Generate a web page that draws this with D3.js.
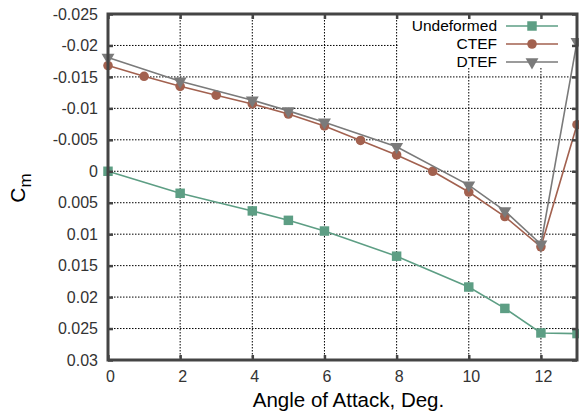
<!DOCTYPE html>
<html>
<head>
<meta charset="utf-8">
<script src="https://cdn.jsdelivr.net/npm/d3@7"></script>
<style>
  body { margin: 0; background: #fff; }
  text { font-family: "Liberation Sans", Arial, sans-serif; }
</style>
</head>
<body>
<div id="chart"></div>
<script>
// angle of attack, deg.
var angles = [0, 1, 2, 3, 4, 5, 6, 7, 8, 9, 10, 11, 12, 13];
var undeformedX = [0, 2, 4, 5, 6, 8, 10, 11, 12, 13];
var undeformedCm = [0.0, 0.0035, 0.0063, 0.0078, 0.0095, 0.0135, 0.0184, 0.0218, 0.0257, 0.0258];
var ctefCm = [-0.0168, -0.0151, -0.0135, -0.0121, -0.0107, -0.0091, -0.0072, -0.0049, -0.0026, 0.0, 0.0033, 0.0072, 0.0120, -0.0074];
var dtefX = [0, 2, 4, 5, 6, 8, 10, 11, 12, 13];
var dtefCm = [-0.0181, -0.0143, -0.0113, -0.0096, -0.0078, -0.0039, 0.0022, 0.0063, 0.0116, -0.0206];
var xTicks = [0, 2, 4, 6, 8, 10, 12];
var yTicks = [-0.025, -0.02, -0.015, -0.01, -0.005, 0, 0.005, 0.01, 0.015, 0.02, 0.025, 0.03];
var seriesNames = ['Undeformed', 'CTEF', 'DTEF'];

function CmChart() {

    this.init = function() {
        this._config = {
            width: 579,
            height: 417,
            left: 108,
            right: 577,
            top: 14,
            bottom: 360
        };
        this._svg = d3.select('#chart').append('svg')
            .attr('width', this._config.width)
            .attr('height', this._config.height);
        this._x = d3.scaleLinear().domain([0, 13]).range([this._config.left, this._config.right]);
        this._y = d3.scaleLinear().domain([-0.025, 0.03]).range([this._config.top, this._config.bottom]);
        this._drawGrid();
        this._drawLegendMask();
        this._drawSeries();
        this._drawAxes();
        this._drawLegend();
        this._drawTitles();
    };

    this._drawGrid = function() {
        var c = this._config, x = this._x, y = this._y;
        var g = this._svg.append('g');
        g.selectAll('line.gx').data(xTicks.slice(1)).enter().append('line')
            .attr('x1', x).attr('x2', x)
            .attr('y1', c.top).attr('y2', c.bottom)
            .attr('stroke', '#000').attr('stroke-width', 1)
            .attr('stroke-dasharray', '1.5,1.5');
        g.selectAll('line.gy').data(yTicks.slice(1, -1)).enter().append('line')
            .attr('y1', y).attr('y2', y)
            .attr('x1', c.left).attr('x2', c.right)
            .attr('stroke', '#000').attr('stroke-width', 1)
            .attr('stroke-dasharray', '1.5,1.5');
    };

    this._drawLegendMask = function() {
        this._svg.append('rect')
            .attr('x', 398).attr('y', this._config.top)
            .attr('width', 174).attr('height', 54)
            .attr('fill', '#fff');
    };

    this._drawSeries = function() {
        var x = this._x, y = this._y;
        var line = d3.line().x(function(d) { return x(d[0]); }).y(function(d) { return y(d[1]); });
        var defs = [
            { pts: d3.zip(undeformedX, undeformedCm), color: '#5d9e84', symbol: d3.symbolSquare, size: 90, rot: 0 },
            { pts: d3.zip(angles, ctefCm), color: '#a2614f', symbol: d3.symbolCircle, size: 72, rot: 0 },
            { pts: d3.zip(dtefX, dtefCm), color: '#7a7a7a', symbol: d3.symbolTriangle, size: 72, rot: 180 }
        ];
        this._defs = defs;
        var svg = this._svg;
        defs.forEach(function(s) {
            svg.append('path').datum(s.pts)
                .attr('d', line)
                .attr('fill', 'none')
                .attr('stroke', s.color)
                .attr('stroke-width', 1.6);
            svg.selectAll(null).data(s.pts).enter().append('path')
                .attr('d', d3.symbol().type(s.symbol).size(s.size))
                .attr('transform', function(d) {
                    return 'translate(' + x(d[0]) + ',' + y(d[1]) + ') rotate(' + s.rot + ')';
                })
                .attr('fill', s.color);
        });
    };

    this._drawAxes = function() {
        var c = this._config, x = this._x, y = this._y;
        var w = c.right - c.left, h = c.bottom - c.top;
        var fmt = function(d) { return d3.format('')(+d.toFixed(3)).replace('−', '-'); };

        var left = this._svg.append('g')
            .attr('transform', 'translate(' + c.left + ',0)')
            .call(d3.axisLeft(y).tickValues(yTicks).tickSize(-5).tickPadding(10).tickFormat(fmt));
        var bottom = this._svg.append('g')
            .attr('transform', 'translate(0,' + c.bottom + ')')
            .call(d3.axisBottom(x).tickValues(xTicks).tickSize(-5).tickPadding(11));
        var top = this._svg.append('g')
            .attr('transform', 'translate(0,' + c.top + ')')
            .call(d3.axisTop(x).tickValues(xTicks).tickSize(-5).tickFormat(''));
        var right = this._svg.append('g')
            .attr('transform', 'translate(' + c.right + ',0)')
            .call(d3.axisRight(y).tickValues(yTicks).tickSize(-5).tickFormat(''));

        [left, bottom, top, right].forEach(function(a) {
            a.select('.domain').remove();
            a.selectAll('.tick line').attr('stroke', '#444').attr('stroke-width', 2.5);
            a.selectAll('text').attr('fill', '#333').style('font-size', '16px')
                .style('font-family', '"Liberation Sans", Arial, sans-serif');
        });
        bottom.selectAll('text').attr('dx', 2);

        this._svg.append('rect')
            .attr('x', c.left).attr('y', c.top)
            .attr('width', w).attr('height', h)
            .attr('fill', 'none')
            .attr('stroke', '#444')
            .attr('stroke-width', 3);
    };

    this._drawLegend = function() {
        var svg = this._svg;
        var rows = [26, 44, 62];
        this._defs.forEach(function(s, i) {
            var yy = rows[i];
            svg.append('text')
                .attr('x', 497).attr('y', yy)
                .attr('dy', '0.35em')
                .attr('text-anchor', 'end')
                .style('font-size', '15.5px')
                .attr('fill', '#000')
                .text(seriesNames[i]);
            svg.append('line')
                .attr('x1', 506).attr('x2', 558)
                .attr('y1', yy).attr('y2', yy)
                .attr('stroke', s.color).attr('stroke-width', 1.6);
            svg.append('path')
                .attr('d', d3.symbol().type(s.symbol).size(s.size))
                .attr('transform', 'translate(532,' + yy + ') rotate(' + s.rot + ')')
                .attr('fill', s.color);
        });
    };

    this._drawTitles = function() {
        var c = this._config;
        this._svg.append('text')
            .attr('x', (c.left + c.right) / 2 + 6).attr('y', 407)
            .attr('text-anchor', 'middle')
            .style('font-size', '20.5px')
            .attr('fill', '#000')
            .text('Angle of Attack, Deg.');
        var t = this._svg.append('text')
            .attr('transform', 'translate(25,188) rotate(-90)')
            .attr('text-anchor', 'middle')
            .attr('fill', '#000')
            .style('font-size', '21px');
        t.append('tspan').text('C');
        t.append('tspan').attr('dy', 6).style('font-size', '17px').text('m');
    };

    this.init();
}

document.addEventListener('DOMContentLoaded', function() {
    window.cmChart = new CmChart();
});
</script>
</body>
</html>
